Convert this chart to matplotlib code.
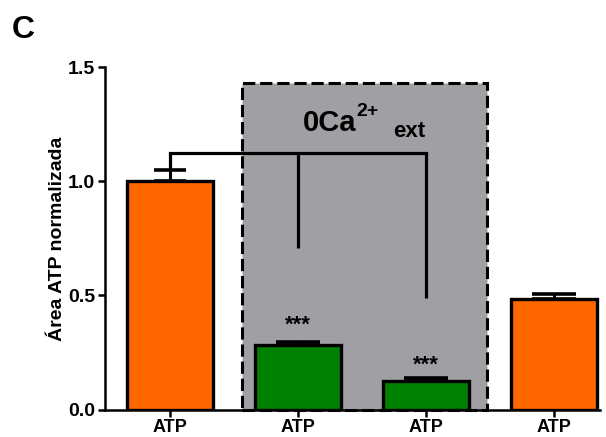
import matplotlib
matplotlib.use("Agg")
import matplotlib.pyplot as plt
from matplotlib.patches import Rectangle

plt.rcParams['font.family'] = ['Liberation Sans', 'DejaVu Sans']
plt.rcParams['font.weight'] = 'bold'

categories = ["ATP", "ATP", "ATP", "ATP"]
values = [1.0, 0.283, 0.125, 0.483]
errors = [0.05, 0.015, 0.012, 0.025]
colors = ["#FF6600", "#008000", "#008000", "#FF6600"]
star_labels = ["", "***", "***", ""]
star_y = [None, 0.37, 0.195, None]
bracket_y = 1.123
bracket_drops = [0.71, 0.49]
box_top = 1.43

fig = plt.figure(figsize=(6.06, 4.37), dpi=100)
ax = fig.add_axes([0.173, 0.0625, 0.817, 0.784])

x = list(range(len(values)))
ax.set_xlim(-0.51, 3.36)
ax.set_ylim(0, 1.5)

# gray 0Ca box
box = Rectangle((0.565, 0), 2.477 - 0.565, box_top, facecolor="#A09FA4",
                edgecolor="black", linewidth=2.2, linestyle=(0, (4, 1.6)),
                zorder=1, clip_on=False)
ax.add_patch(box)

ax.bar(x, values, width=0.67, color=colors, edgecolor="black", linewidth=2.4, zorder=3)
caps = [11.5, 16, 16, 16]
for xi, v, e, c in zip(x, values, errors, caps):
    ax.errorbar(xi, v, yerr=[[0], [e]], fmt="none", ecolor="black",
                elinewidth=2.2, capsize=c, capthick=2.6, zorder=2)

for xi, s, sy in zip(x, star_labels, star_y):
    if s:
        ax.text(xi, sy, s, ha="center", va="center", fontsize=16, fontweight="bold", zorder=5)

# bracket
lw = 2.3
ax.plot([0, 0], [values[0] + errors[0], bracket_y], color="black", lw=lw, zorder=4, solid_capstyle="butt")
ax.plot([0, 2], [bracket_y, bracket_y], color="black", lw=lw, zorder=4, solid_capstyle="projecting")
ax.plot([1, 1], [bracket_y, bracket_drops[0]], color="black", lw=lw, zorder=4, solid_capstyle="butt")
ax.plot([2, 2], [bracket_y, bracket_drops[1]], color="black", lw=lw, zorder=4, solid_capstyle="butt")

# 0Ca2+ ext label
ax.text(1.04, 1.22, "0Ca", fontsize=21, fontweight="bold", ha="left", va="baseline", zorder=5)
ax.text(1.46, 1.285, "2+", fontsize=14, fontweight="bold", ha="left", va="baseline", zorder=5)
ax.text(1.74, 1.195, "ext", fontsize=16, fontweight="bold", ha="left", va="baseline", zorder=5)

ax.set_xticks(x)
ax.set_xticklabels(categories, fontsize=13, fontweight="bold")
ax.set_yticks([0.0, 0.5, 1.0, 1.5])
ax.set_yticklabels(["0.0", "0.5", "1.0", "1.5"], fontsize=14, fontweight="bold")
ax.tick_params(axis="both", direction="out", length=5, width=1.8, pad=2)
ax.set_ylabel("Área ATP normalizada", fontsize=14, fontweight="bold", labelpad=1)

for s in ["top", "right"]:
    ax.spines[s].set_visible(False)
for s in ["left", "bottom"]:
    ax.spines[s].set_linewidth(1.8)
ax.spines["left"].set_bounds(0, 1.5)
ax.set_facecolor("none")

fig.text(12 / 606, 1 - 38 / 437, "C", fontsize=23, fontweight="bold", ha="left", va="baseline")

fig.savefig("out.png", dpi=100)
